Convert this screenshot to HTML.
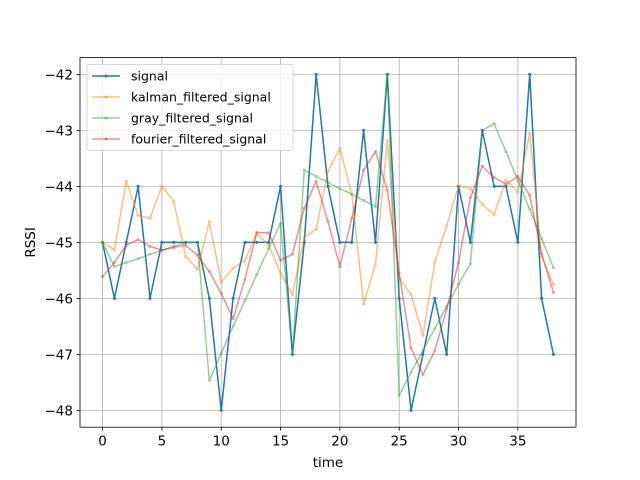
<!DOCTYPE html>
<html><head><meta charset="utf-8"><style>
body{margin:0;background:#fff}
svg{display:block;font-family:"DejaVu Sans","Liberation Sans",sans-serif}
</style></head><body>
<svg id="chart" width="640" height="480" xmlns="http://www.w3.org/2000/svg">
<rect width="640" height="480" fill="#fff"/>
<g id="grid"></g><g id="series"></g><g id="axes"></g>
</svg>
<script>
const xTicks=[0,5,10,15,20,25,30,35];
const yTicks=[-48,-47,-46,-45,-44,-43,-42];
const signal=[-45,-46,-45,-44,-46,-45,-45,-45,-45,-46,-48,-46,-45,-45,-45,-44,-47,-45,-42,-44,-45,-45,-43,-45,-42,-46,-48,-47,-46,-47,-44,-45,-43,-44,-44,-45,-42,-46,-47];
const kalman=[-45,-45.13,-43.91,-44.52,-44.57,-44,-44.27,-45.25,-45.48,-44.63,-45.71,-45.46,-45.32,-44.84,-45.05,-45.55,-45.93,-44.91,-44.76,-43.73,-43.32,-44.13,-46.1,-45.39,-43.18,-45.64,-45.93,-46.66,-45.36,-44.7,-43.99,-44.04,-44.32,-44.5,-43.89,-44.1,-43.05,-45.25,-45.75];
const gray=[-45,-45.43,-45.36,-45.29,-45.21,-45.14,-45.07,-45,-45,-47.46,-46.98,-46.5,-46.04,-45.57,-45.11,-44.66,-47,-43.71,-43.82,-43.93,-44.04,-44.14,-44.25,-44.36,-42,-47.73,-47.32,-46.93,-46.54,-46.14,-45.75,-45.38,-43,-42.88,-43.38,-43.89,-44.41,-44.93,-45.45];
const fourier=[-45.61,-45.36,-45.05,-44.95,-45.07,-45.14,-45.09,-45.05,-45.23,-45.52,-45.91,-46.36,-45.66,-44.82,-44.83,-45.32,-45.21,-44.39,-43.91,-44.63,-45.43,-44.57,-43.71,-43.38,-44.07,-45.55,-46.89,-47.36,-46.93,-46.19,-45.36,-44.2,-43.64,-43.84,-43.96,-43.82,-44.16,-45.2,-45.89];
const seriesNames=["signal","kalman_filtered_signal","gray_filtered_signal","fourier_filtered_signal"];
const L=80,R=576,T=57.6,B=427.2;
const xMin=-1.9,xMax=39.9,yMin=-48.3,yMax=-41.7;
const sx=v=>L+(v-xMin)/(xMax-xMin)*(R-L);
const sy=v=>B-(v-yMin)/(yMax-yMin)*(B-T);
const NS="http://www.w3.org/2000/svg";
function mk(tag,attrs,parent){const e=document.createElementNS(NS,tag);for(const k in attrs)e.setAttribute(k,attrs[k]);parent.appendChild(e);return e;}
const grid=document.getElementById('grid'),axes=document.getElementById('axes'),ser=document.getElementById('series');
xTicks.forEach(t=>{const x=sx(t);
 const g=mk('line',{x1:x,x2:x,y1:T,y2:B,stroke:'#b0b0b0','stroke-width':0.8},grid);
 
 
 mk('line',{x1:x,x2:x,y1:B,y2:B+3.5,stroke:'#000','stroke-width':0.8},axes);
 const tx=mk('text',{x:x,y:B+18.5,'text-anchor':'middle','font-size':13.5,fill:'#000'},axes);tx.textContent=t;
 
 
});
yTicks.forEach(t=>{const y=sy(t);
 const g=mk('line',{x1:L,x2:R,y1:y,y2:y,stroke:'#b0b0b0','stroke-width':0.8},grid);
 
 
 mk('line',{x1:L-3.5,x2:L,y1:y,y2:y,stroke:'#000','stroke-width':0.8},axes);
 const tx=mk('text',{x:L-7,y:y+5,'text-anchor':'end','font-size':13.5,fill:'#000'},axes);tx.textContent='\u2212'+Math.abs(t);
 
 
});
const frame=mk('rect',{x:L,y:T,width:R-L,height:B-T,fill:'none',stroke:'#000','stroke-width':0.8},axes);


const xl=mk('text',{x:(L+R)/2,y:467,'text-anchor':'middle','font-size':13.5,fill:'#000'},axes);xl.textContent='time';


const yl=mk('text',{x:0,y:0,'text-anchor':'middle','font-size':13.5,fill:'#000',transform:`translate(35,${(T+B)/2}) rotate(-90)`},axes);yl.textContent='RSSI';


const data=[signal,kalman,gray,fourier],cols=['#1f77b4','#ff7f0e','#2ca02c','#d62728'],alphas=[1,0.5,0.5,0.5];
data.forEach((d,i)=>{
 const g=mk('g',{opacity:alphas[i]},ser);
 
 
 const pts=d.map((v,j)=>sx(j)+','+sy(v)).join(' ');
 const pl=mk('polyline',{points:pts,fill:'none',stroke:cols[i],'stroke-width':1.5,'stroke-linejoin':'round'},g);
 
 
 d.forEach((v,j)=>{const c=mk('circle',{cx:sx(j),cy:sy(v),r:1.5,fill:cols[i]},g);
  
  });
});
const lg=mk('g',{},axes);


mk('rect',{x:87,y:64.5,width:206,height:86,rx:2,fill:'#fff','fill-opacity':0.8,stroke:'#ccc','stroke-width':0.8},lg);
seriesNames.forEach((n,i)=>{const y=76+i*21;
 const e=mk('g',{},lg);
 
 
 mk('line',{x1:92,x2:120,y1:y,y2:y,stroke:cols[i],'stroke-width':1.5,opacity:alphas[i]},e);
 mk('circle',{cx:106,cy:y,r:1.5,fill:cols[i],opacity:alphas[i]},e);
 const t=mk('text',{x:131,y:y+4.5,'font-size':12.5,fill:'#000'},e);t.textContent=n;
});
</script>
</body></html>
